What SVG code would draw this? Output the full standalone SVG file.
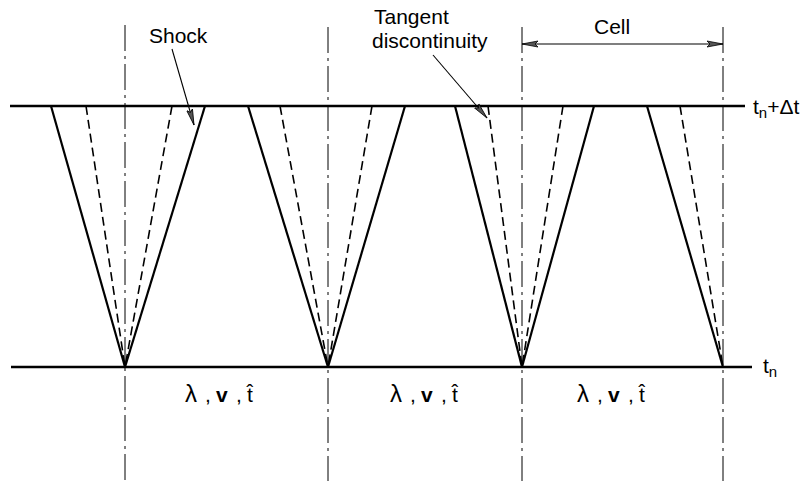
<svg xmlns="http://www.w3.org/2000/svg" width="811" height="481" viewBox="0 0 811 481">
  <style>
    .lbl { font-family: "Liberation Sans", Arial, sans-serif; font-size: 21px; fill: #000; }
    .math { font-family: "Liberation Sans", Arial, sans-serif; font-size: 21px; fill: #000; }
    .time { stroke: #000; stroke-width: 2.6; fill: none; }
    .axis { stroke: #000; stroke-width: 1; fill: none; stroke-dasharray: 26 5 3 5; }
    .shock { stroke: #000; stroke-width: 2.2; fill: none; }
    .tang { stroke: #000; stroke-width: 1.6; fill: none; stroke-dasharray: 9 5; }
    .lead { stroke: #000; stroke-width: 1.1; fill: none; }
  </style>
  <defs>
    <marker id="ah" markerUnits="userSpaceOnUse" markerWidth="17" markerHeight="8" refX="16" refY="4" orient="auto-start-reverse">
      <path d="M0,1 L16,4 L0,7 L3,4 z" fill="#555" stroke="#000" stroke-width="0.8"/>
    </marker>
  </defs>
  <rect width="811" height="481" fill="#fff"/>

  <g id="time-levels">
    <line class="time" x1="10" y1="106" x2="745" y2="106"/>
    <line class="time" x1="11" y1="367" x2="752" y2="367"/>
    <text class="lbl" x="753" y="114" font-size="23">t<tspan font-size="15" dy="4">n</tspan><tspan dy="-4">+Δt</tspan></text>
    <text class="lbl" x="763" y="373" font-size="23">t<tspan font-size="15" dy="4">n</tspan></text>
  </g>

  <g id="cell-boundaries">
    <line class="axis" x1="125" y1="25" x2="125" y2="481"/>
    <line class="axis" x1="328" y1="27" x2="328" y2="481"/>
    <line class="axis" x1="522" y1="27" x2="522" y2="481"/>
    <line class="axis" x1="723" y1="27" x2="723" y2="481"/>
  </g>

  <g id="fan1">
    <line class="shock" x1="51" y1="106" x2="125" y2="367"/>
    <line class="shock" x1="205" y1="106" x2="125" y2="367"/>
    <line class="tang" x1="86" y1="106" x2="125" y2="367"/>
    <line class="tang" x1="172" y1="106" x2="125" y2="367"/>
  </g>
  <g id="fan2">
    <line class="shock" x1="248" y1="106" x2="328" y2="367"/>
    <line class="shock" x1="405" y1="106" x2="328" y2="367"/>
    <line class="tang" x1="280" y1="106" x2="328" y2="367"/>
    <line class="tang" x1="372" y1="106" x2="328" y2="367"/>
  </g>
  <g id="fan3">
    <line class="shock" x1="455" y1="106" x2="522" y2="367"/>
    <line class="shock" x1="594" y1="106" x2="522" y2="367"/>
    <line class="tang" x1="488" y1="106" x2="522" y2="367"/>
    <line class="tang" x1="563" y1="106" x2="522" y2="367"/>
  </g>
  <g id="fan4">
    <line class="shock" x1="647" y1="106" x2="723" y2="367"/>
    <line class="tang" x1="680" y1="106" x2="723" y2="367"/>
  </g>

  <g id="label-shock">
    <text class="lbl" x="149" y="43">Shock</text>
  </g>
  <g id="label-tangent">
    <text class="lbl" x="374" y="24">Tangent</text>
    <text class="lbl" x="372" y="48">discontinuity</text>
  </g>
  <g id="label-cell">
    <text class="lbl" x="594" y="34">Cell</text>
  </g>

  <g id="state1">
    <text class="math" x="185" y="402"><tspan font-size="24">λ</tspan><tspan x="205">,</tspan><tspan x="216" font-weight="bold">v</tspan><tspan x="236">,</tspan><tspan x="247">t̂</tspan></text>
  </g>
  <g id="state2">
    <text class="math" x="390" y="402"><tspan font-size="24">λ</tspan><tspan x="410">,</tspan><tspan x="421" font-weight="bold">v</tspan><tspan x="441">,</tspan><tspan x="452">t̂</tspan></text>
  </g>
  <g id="state3">
    <text class="math" x="577" y="402"><tspan font-size="24">λ</tspan><tspan x="597">,</tspan><tspan x="608" font-weight="bold">v</tspan><tspan x="628">,</tspan><tspan x="639">t̂</tspan></text>
  </g>

  <g id="connectors">
    <line class="lead" x1="172" y1="49" x2="194" y2="125" marker-end="url(#ah)"/>
    <line class="lead" x1="433" y1="55" x2="487" y2="118" marker-end="url(#ah)"/>
    <line class="lead" x1="522" y1="44" x2="723" y2="44" stroke-width="1.4" marker-start="url(#ah)" marker-end="url(#ah)"/>
  </g>
</svg>
